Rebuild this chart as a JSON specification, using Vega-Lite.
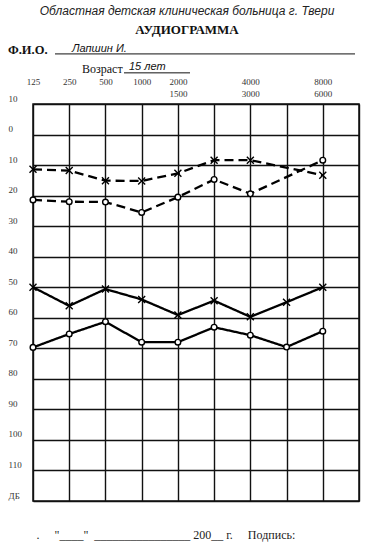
{
  "$schema": "https://vega.github.io/schema/vega-lite/v6.json",
  "width": 326,
  "height": 397,
  "autosize": {"type": "none"},
  "padding": {"left": 33, "top": 104, "right": 11, "bottom": 47},
  "background": "white",
  "config": {
    "view": {"stroke": "#111", "strokeWidth": 1.5},
    "font": "Liberation Serif",
    "axis": {"labelOverlap": false, "labelFlush": false},
    "axisY": {
      "grid": true,
      "gridColor": "#111",
      "gridWidth": 1.4,
      "domain": false,
      "ticks": false,
      "tickSize": 0,
      "labelAlign": "left",
      "labelBaseline": "middle",
      "labelPadding": 25,
      "labelOffset": -6,
      "labelFont": "Liberation Serif",
      "labelFontSize": 9,
      "labelColor": "#333",
      "labelFlush": false,
      "labelOverlap": false
    }
  },
  "title": {
    "text": "Областная детская клиническая больница г. Твери",
    "subtitle": "АУДИОГРАММА",
    "font": "Liberation Sans",
    "fontStyle": "italic",
    "fontWeight": "normal",
    "fontSize": 12,
    "color": "#222",
    "subtitleFont": "Liberation Serif",
    "subtitleFontWeight": "bold",
    "subtitleFontSize": 13,
    "subtitleColor": "#111",
    "subtitlePadding": 6,
    "frame": "group",
    "anchor": "middle",
    "offset": 5,
    "dx": -9
  },
  "datasets": {
    "audiogram": [
      {"freq": 125, "ear": "left", "conduction": "bone", "db": 11.4},
      {"freq": 250, "ear": "left", "conduction": "bone", "db": 11.8},
      {"freq": 500, "ear": "left", "conduction": "bone", "db": 15.1},
      {"freq": 1000, "ear": "left", "conduction": "bone", "db": 15.2},
      {"freq": 1500, "ear": "left", "conduction": "bone", "db": 12.7},
      {"freq": 2000, "ear": "left", "conduction": "bone", "db": 8.4},
      {"freq": 3000, "ear": "left", "conduction": "bone", "db": 8.4},
      {"freq": 6000, "ear": "left", "conduction": "bone", "db": 13.3},
      {"freq": 125, "ear": "right", "conduction": "bone", "db": 21.4},
      {"freq": 250, "ear": "right", "conduction": "bone", "db": 22.0},
      {"freq": 500, "ear": "right", "conduction": "bone", "db": 22.1},
      {"freq": 1000, "ear": "right", "conduction": "bone", "db": 25.5},
      {"freq": 1500, "ear": "right", "conduction": "bone", "db": 20.5},
      {"freq": 2000, "ear": "right", "conduction": "bone", "db": 14.7},
      {"freq": 3000, "ear": "right", "conduction": "bone", "db": 19.4},
      {"freq": 6000, "ear": "right", "conduction": "bone", "db": 8.4},
      {"freq": 125, "ear": "left", "conduction": "air", "db": 50.0},
      {"freq": 250, "ear": "left", "conduction": "air", "db": 56.1},
      {"freq": 500, "ear": "left", "conduction": "air", "db": 50.6},
      {"freq": 1000, "ear": "left", "conduction": "air", "db": 54.0},
      {"freq": 1500, "ear": "left", "conduction": "air", "db": 59.1},
      {"freq": 2000, "ear": "left", "conduction": "air", "db": 54.4},
      {"freq": 3000, "ear": "left", "conduction": "air", "db": 59.7},
      {"freq": 4000, "ear": "left", "conduction": "air", "db": 54.9},
      {"freq": 6000, "ear": "left", "conduction": "air", "db": 50.0},
      {"freq": 125, "ear": "right", "conduction": "air", "db": 69.7},
      {"freq": 250, "ear": "right", "conduction": "air", "db": 65.3},
      {"freq": 500, "ear": "right", "conduction": "air", "db": 61.3},
      {"freq": 1000, "ear": "right", "conduction": "air", "db": 68.0},
      {"freq": 1500, "ear": "right", "conduction": "air", "db": 68.0},
      {"freq": 2000, "ear": "right", "conduction": "air", "db": 63.1},
      {"freq": 3000, "ear": "right", "conduction": "air", "db": 65.7},
      {"freq": 4000, "ear": "right", "conduction": "air", "db": 69.6},
      {"freq": 6000, "ear": "right", "conduction": "air", "db": 64.4}
    ]
  },
  "layer": [
    {
      "data": {"name": "audiogram"},
      "mark": {"type": "line", "color": "black", "strokeWidth": 2.3},
      "encoding": {
        "x": {
          "field": "freq",
          "type": "ordinal",
          "scale": {"type": "point", "padding": 0, "domain": [125, 250, 500, 1000, 1500, 2000, 3000, 4000, 6000, 8000]},
          "axis": {
            "orient": "top",
            "title": null,
            "grid": true,
            "gridColor": "#111",
            "gridWidth": 1.4,
            "domain": false,
            "ticks": false,
            "tickSize": 0,
            "labelBaseline": "top",
            "labelPadding": 27,
            "labelAlign": "center",
            "labelAngle": 0,
            "labelFont": "Liberation Serif",
            "labelFontSize": 9,
            "labelLineHeight": 12,
            "labelColor": "#333",
            "labelOverlap": false,
            "labelExpr": "datum.value == 1500 ? ['2000', '1500'] : datum.value == 3000 ? ['4000', '3000'] : datum.value == 6000 ? ['8000', '6000'] : (datum.value == 2000 || datum.value == 4000 || datum.value == 8000) ? '' : datum.label"
          }
        },
        "y": {
          "field": "db",
          "type": "quantitative",
          "scale": {"domain": [-10, 120], "reverse": true, "nice": false, "zero": false},
          "axis": {"title": null, "tickCount": 20, "values": [-10, 0, 10, 20, 30, 40, 50, 60, 70, 80, 90, 100, 110, 120], "labelExpr": "datum.value == 120 ? 'ДБ' : format(abs(datum.value), 'd')"}
        },
        "strokeDash": {"field": "conduction", "type": "nominal", "scale": {"domain": ["air", "bone"], "range": [[1, 0], [9, 5]]}, "legend": null},
        "detail": {"field": "ear"}
      }
    },
    {
      "data": {"name": "audiogram"},
      "mark": {"type": "point", "filled": true, "fill": "white", "stroke": "black", "strokeWidth": 1.4, "opacity": 1},
      "encoding": {
        "x": {
          "field": "freq",
          "type": "ordinal",
          "axis": {
            "orient": "bottom",
            "labels": false,
            "ticks": false,
            "domain": false,
            "grid": false,
            "title": ".\u00a0\u00a0\u00a0\u00a0\u00a0\"____\"\u00a0\u00a0________________\u00a0200__\u00a0г.\u00a0\u00a0\u00a0\u00a0\u00a0Подпись:",
            "titleFont": "Liberation Serif",
            "titleFontSize": 12,
            "titleFontWeight": "normal",
            "titleColor": "#222",
            "titlePadding": 28,
            "titleAnchor": "start",
            "titleAlign": "left",
            "titleBaseline": "top",
            "titleX": 3
          }
        },
        "y": {"field": "db", "type": "quantitative", "axis": {"title": null, "tickCount": 20, "values": [-10, 0, 10, 20, 30, 40, 50, 60, 70, 80, 90, 100, 110, 120], "labelExpr": "datum.value == 120 ? 'ДБ' : format(abs(datum.value), 'd')"}},
        "shape": {"field": "ear", "type": "nominal", "scale": {"domain": ["left", "right"], "range": ["M-1,-1L1,1M-1,1L1,-1", "circle"]}, "legend": null},
        "size": {"field": "ear", "type": "ordinal", "scale": {"domain": ["left", "right"], "range": [49, 32]}, "legend": null}
      }
    },
    {
      "data": {"values": [{"t": "Ф.И.О."}]},
      "mark": {"type": "text", "font": "Liberation Serif", "fontWeight": "bold", "fontSize": 12.5, "align": "left", "baseline": "alphabetic", "dx": -25, "color": "#111"},
      "encoding": {
        "text": {"field": "t"},
        "x": {"datum": 125, "type": "ordinal", "axis": null},
        "y": {"datum": -26.4, "type": "quantitative", "axis": {"title": null, "tickCount": 20, "values": [-10, 0, 10, 20, 30, 40, 50, 60, 70, 80, 90, 100, 110, 120], "labelExpr": "datum.value == 120 ? 'ДБ' : format(abs(datum.value), 'd')"}}
      }
    },
    {
      "data": {"values": [{"t": "Лапшин И."}]},
      "mark": {"type": "text", "font": "Liberation Sans", "fontStyle": "italic", "fontSize": 11, "align": "left", "baseline": "alphabetic", "dx": 39, "color": "#111"},
      "encoding": {
        "text": {"field": "t"},
        "x": {"datum": 125, "type": "ordinal", "axis": null},
        "y": {"datum": -27.0, "type": "quantitative", "axis": {"title": null, "tickCount": 20, "values": [-10, 0, 10, 20, 30, 40, 50, 60, 70, 80, 90, 100, 110, 120], "labelExpr": "datum.value == 120 ? 'ДБ' : format(abs(datum.value), 'd')"}}
      }
    },
    {
      "data": {"values": [{"t": "Возраст"}]},
      "mark": {"type": "text", "font": "Liberation Serif", "fontSize": 12, "align": "left", "baseline": "alphabetic", "dx": 49, "color": "#111"},
      "encoding": {
        "text": {"field": "t"},
        "x": {"datum": 125, "type": "ordinal", "axis": null},
        "y": {"datum": -20.15, "type": "quantitative", "axis": {"title": null, "tickCount": 20, "values": [-10, 0, 10, 20, 30, 40, 50, 60, 70, 80, 90, 100, 110, 120], "labelExpr": "datum.value == 120 ? 'ДБ' : format(abs(datum.value), 'd')"}}
      }
    },
    {
      "data": {"values": [{"t": "15 лет"}]},
      "mark": {"type": "text", "font": "Liberation Sans", "fontStyle": "italic", "fontSize": 11, "align": "left", "baseline": "alphabetic", "dx": 96, "color": "#111"},
      "encoding": {
        "text": {"field": "t"},
        "x": {"datum": 125, "type": "ordinal", "axis": null},
        "y": {"datum": -21.1, "type": "quantitative", "axis": {"title": null, "tickCount": 20, "values": [-10, 0, 10, 20, 30, 40, 50, 60, 70, 80, 90, 100, 110, 120], "labelExpr": "datum.value == 120 ? 'ДБ' : format(abs(datum.value), 'd')"}}
      }
    },
    {
      "data": {"values": [{"field": "name"}]},
      "mark": {"type": "rule", "color": "#111", "strokeWidth": 1, "xOffset": 22, "x2Offset": -4},
      "encoding": {
        "x": {"datum": 125, "type": "ordinal", "axis": null},
        "x2": {"datum": 8000},
        "y": {"datum": -26.4, "type": "quantitative", "axis": {"title": null, "tickCount": 20, "values": [-10, 0, 10, 20, 30, 40, 50, 60, 70, 80, 90, 100, 110, 120], "labelExpr": "datum.value == 120 ? 'ДБ' : format(abs(datum.value), 'd')"}}
      }
    },
    {
      "data": {"values": [{"field": "age"}]},
      "mark": {"type": "rule", "color": "#111", "strokeWidth": 1, "xOffset": 91, "x2Offset": 157},
      "encoding": {
        "x": {"datum": 125, "type": "ordinal", "axis": null},
        "x2": {"datum": 125},
        "y": {"datum": -20.2, "type": "quantitative", "axis": {"title": null, "tickCount": 20, "values": [-10, 0, 10, 20, 30, 40, 50, 60, 70, 80, 90, 100, 110, 120], "labelExpr": "datum.value == 120 ? 'ДБ' : format(abs(datum.value), 'd')"}}
      }
    }
  ],
  "resolve": {"axis": {"x": "independent"}}
}
